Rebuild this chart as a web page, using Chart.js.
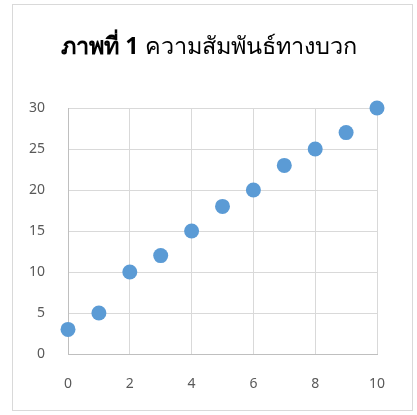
<!DOCTYPE html>
<html>
<head>
<meta charset="utf-8">
<script src="https://cdn.jsdelivr.net/npm/chart.js@4.4.1/dist/chart.umd.min.js"></script>
<style>
  html, body { margin: 0; padding: 0; background: #fff; }
  #wrap { position: relative; width: 417px; height: 415px; }
</style>
</head>
<body>
<div id="wrap"><canvas id="canvas" width="417" height="415"></canvas></div>
<script>
// data
var xValues = [0, 1, 2, 3, 4, 5, 6, 7, 8, 9, 10];
var yValues = [3, 5, 10, 12, 15, 18, 20, 23, 25, 27, 30];
var titleBold = "ภาพที่ 1";
var titleRest = " ความสัมพันธ์ทางบวก";

var points = xValues.map(function(x, i) { return {x: x, y: yValues[i]}; });

// frame + two-weight title drawn by hand
var frameAndTitle = {
    id: "frameAndTitle",
    beforeDraw: function(chart) {
        var ctx = chart.ctx;
        ctx.save();
        ctx.fillStyle = "#fff";
        ctx.fillRect(0, 0, chart.width, chart.height);
        ctx.strokeStyle = "#d9d9d9";
        ctx.lineWidth = 1;
        ctx.strokeRect(12.5, 4.5, 400, 406);
        ctx.restore();
    },
    afterDraw: function(chart) {
        var ctx = chart.ctx;
        ctx.save();
        var fam = "'Noto Sans', 'DejaVu Sans', sans-serif";
        var size = 23.5;
        ctx.font = "bold " + size + "px " + fam;
        var w1 = ctx.measureText(titleBold).width;
        ctx.font = size + "px " + fam;
        var w2 = ctx.measureText(titleRest).width;
        var x = 209 - (w1 + w2) / 2;
        ctx.fillStyle = "#000";
        ctx.textBaseline = "alphabetic";
        ctx.textAlign = "left";
        ctx.font = "bold " + size + "px " + fam;
        ctx.fillText(titleBold, x, 54);
        ctx.font = size + "px " + fam;
        ctx.fillText(titleRest, x + w1, 54);
        ctx.restore();
    }
};

var ctx = document.getElementById("canvas").getContext("2d");
var chart = new Chart(ctx, {
    type: "scatter",
    data: {
        datasets: [{
            data: points,
            backgroundColor: "#5b9bd5",
            borderColor: "#5b9bd5",
            pointRadius: 7.5,
            pointHoverRadius: 7.5,
            borderWidth: 0,
            clip: false
        }]
    },
    options: {
        responsive: false,
        animation: false,
        devicePixelRatio: 1,
        layout: { padding: { top: 108, left: 20, right: 40, bottom: 21 } },
        plugins: { legend: { display: false }, tooltip: { enabled: false } },
        scales: {
            x: {
                type: "linear",
                min: 0, max: 10,
                afterFit: function(s) { s.height = 40; },
                ticks: { stepSize: 2, padding: 22, color: "#595959",
                         font: { family: "'Noto Sans', sans-serif", size: 14 } },
                grid: { color: "#d9d9d9", drawTicks: false },
                border: { color: "#bfbfbf" }
            },
            y: {
                min: 0, max: 30,
                afterFit: function(s) { s.width = 48; },
                ticks: { stepSize: 5, padding: 23, color: "#595959",
                         font: { family: "'Noto Sans', sans-serif", size: 14 } },
                grid: { color: "#d9d9d9", drawTicks: false },
                border: { color: "#bfbfbf" }
            }
        }
    },
    plugins: [frameAndTitle]
});
</script>
</body>
</html>
